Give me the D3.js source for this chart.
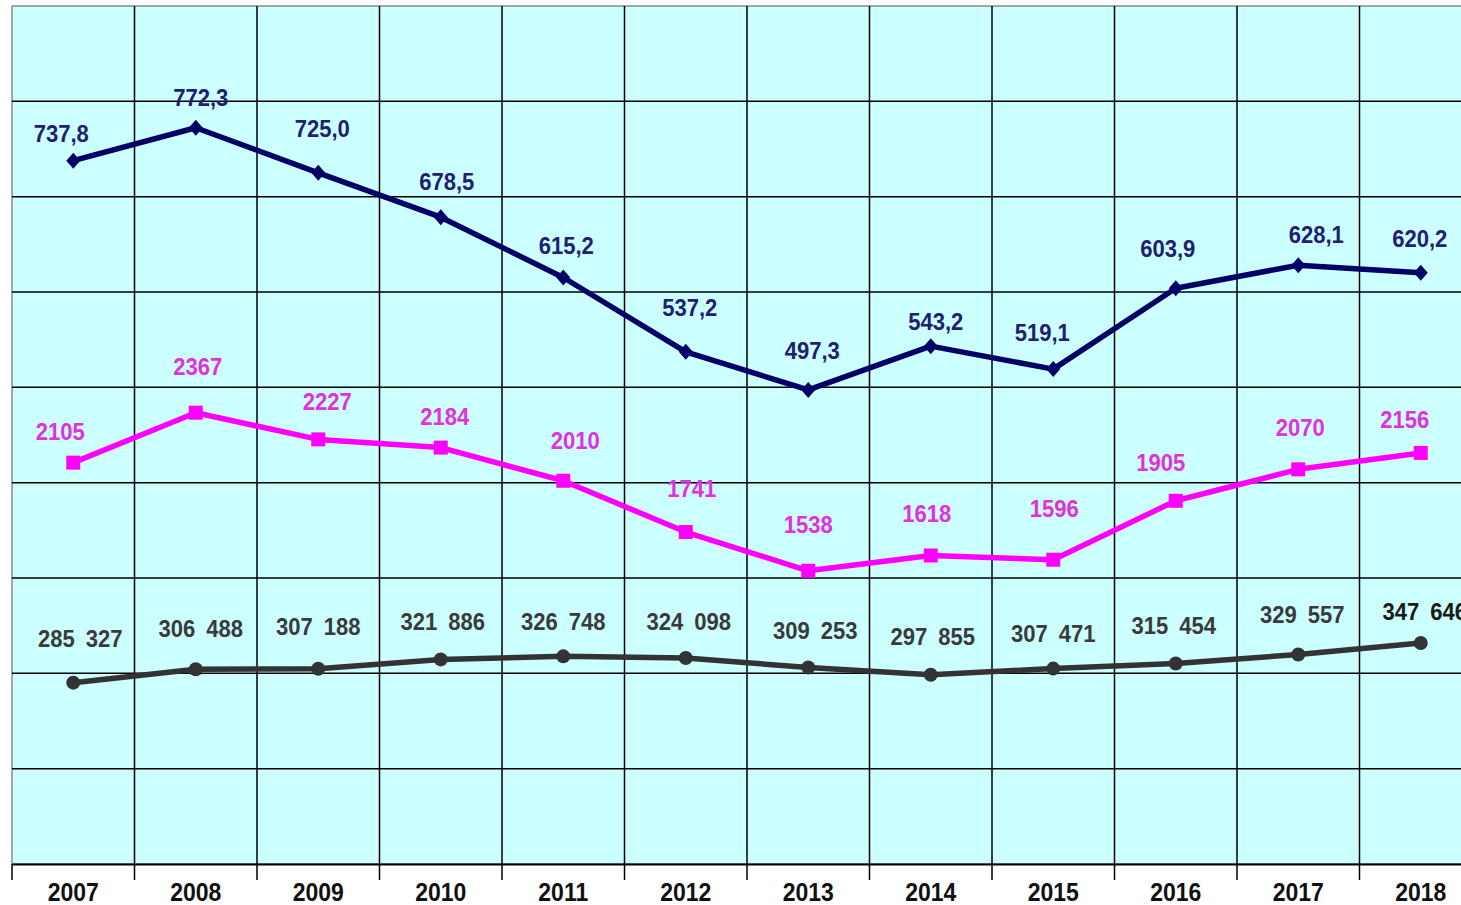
<!DOCTYPE html>
<html><head><meta charset="utf-8">
<script src="https://cdn.jsdelivr.net/npm/d3@7"></script>
<style>
html,body{margin:0;padding:0;background:#fff;}
svg{display:block;}
text{font-family:"Liberation Sans",Arial,sans-serif;}
</style></head>
<body>
<svg id="chart" width="1461" height="905"></svg>
<script>
// ---- data ----
const years = ["2007","2008","2009","2010","2011","2012","2013","2014","2015","2016","2017","2018"];
const blueValues = [737.8, 772.3, 725.0, 678.5, 615.2, 537.2, 497.3, 543.2, 519.1, 603.9, 628.1, 620.2];
const pinkValues = [2105, 2367, 2227, 2184, 2010, 1741, 1538, 1618, 1596, 1905, 2070, 2156];
const blackValues = [285327, 306488, 307188, 321886, 326748, 324098, 309253, 297855, 307471, 315454, 329557, 347646];

// label nudges (style, relative to each point)
const blueDx = [-12,5,4,6,3,4,4,5,-11,-8,18,-1];
const blueDy = [-27,-30,-44,-36,-32,-45,-40,-25,-37,-40,-31,-34];
const pinkDx = [-13,2,9,4,12,6,0,-4,1,-15,2,-16];
const pinkDy = [-31,-46,-38,-31,-40,-44,-46,-42,-51,-38,-42,-34];
const blackDx = [7,5,0,2,0,3,7,2,0,-2,4,4];
const blackDy = [-44,-41,-42,-38,-35,-37,-37,-38,-35,-38,-40,-32];

const svg = d3.select("#chart");
const mLeft = 12, mRight = 1482, mTop = 6, mBottom = 864;
const SX = 0.92;

const x = d3.scaleBand().domain(years).range([mLeft, mRight]).padding(0);
const cx = d => x(d) + x.bandwidth()/2;
const yBlue = d3.scaleLinear().domain([0, 900]).range([mBottom, mTop]);
const yPink = d3.scaleLinear().domain([0, 4500]).range([mBottom, mTop]);
const yBlack = d3.scaleLinear().domain([0, 1350000]).range([mBottom, mTop]);

// plot background
svg.append("rect").attr("x", mLeft).attr("y", mTop).attr("width", mRight-mLeft).attr("height", mBottom-mTop)
  .attr("fill", "#ccffff").attr("stroke", "#8a8a8a").attr("stroke-width", 1.5);

// horizontal grid
const hTicks = yBlue.ticks(9).filter(t => t > 0 && t < 900);
svg.append("g").selectAll("line").data(hTicks).join("line")
  .attr("x1", mLeft).attr("x2", mRight)
  .attr("y1", d => yBlue(d)).attr("y2", d => yBlue(d))
  .attr("stroke", "#000").attr("stroke-width", 1.5);

// vertical grid
svg.append("g").selectAll("line").data(years.slice(1)).join("line")
  .attr("x1", d => x(d)).attr("x2", d => x(d))
  .attr("y1", mTop).attr("y2", mBottom)
  .attr("stroke", "#000").attr("stroke-width", 1.5);

// x axis
const xAxis = d3.axisBottom(x).tickSize(0).tickPadding(0);
const gx = svg.append("g").attr("transform", `translate(0,${mBottom})`).call(xAxis);
gx.select(".domain").attr("stroke", "#000").attr("stroke-width", 2);
gx.selectAll(".tick text").attr("y", 37).attr("dy", 0)
  .attr("transform", "scale(0.92,1)")
  .attr("font-size", 25).attr("font-weight", "bold").attr("fill", "#111")
  .style("font-family", '"Liberation Sans",Arial,sans-serif');
// tick marks at band boundaries
svg.append("g").selectAll("line").data(years).join("line")
  .attr("x1", d => x(d)).attr("x2", d => x(d))
  .attr("y1", mBottom).attr("y2", mBottom + 16)
  .attr("stroke", "#000").attr("stroke-width", 1.5);

// series
function drawSeries(values, yScale, color, width) {
  const line = d3.line().x((d,i) => cx(years[i])).y(d => yScale(d));
  svg.append("path").datum(values).attr("d", line)
    .attr("fill", "none").attr("stroke", color).attr("stroke-width", width)
    .attr("stroke-linejoin", "round");
}
drawSeries(blackValues, yBlack, "#333333", 5.5);
drawSeries(pinkValues, yPink, "#ff00ff", 5.5);
drawSeries(blueValues, yBlue, "#000066", 5.5);

// markers
svg.append("g").selectAll("circle").data(blackValues).join("circle")
  .attr("cx", (d,i) => cx(years[i])).attr("cy", d => yBlack(d)).attr("r", 7).attr("fill", "#333333");
svg.append("g").selectAll("rect").data(pinkValues).join("rect")
  .attr("x", (d,i) => cx(years[i]) - 7).attr("y", d => yPink(d) - 7)
  .attr("width", 14).attr("height", 14).attr("fill", "#ff00ff");
svg.append("g").selectAll("path").data(blueValues).join("path")
  .attr("transform", (d,i) => `translate(${cx(years[i])},${yBlue(d)})`)
  .attr("d", "M0,-8L7,0L0,8L-7,0Z").attr("fill", "#000066");

// labels
const fmtBlue = d => d3.format(".1f")(d).replace(".", ",");
const fmtBlack = d => d3.format(",")(d).replace(/,/g, "\u2002");
function drawLabels(values, yScale, fmt, dx, dy, color) {
  svg.append("g").selectAll("text").data(values).join("text")
    .attr("transform", (d,i) => `translate(${cx(years[i]) + dx[i]},${yScale(d) + dy[i]}) scale(${SX},1)`)
    .attr("dy", "0.36em")
    .attr("text-anchor", "middle")
    .attr("font-size", 24)
    .attr("font-weight", "bold")
    .attr("fill", (d,i) => typeof color === "function" ? color(i) : color)
    .text(fmt);
}
drawLabels(blueValues, yBlue, fmtBlue, blueDx, blueDy, "#202070");
drawLabels(pinkValues, yPink, d => String(d), pinkDx, pinkDy, "#e030e0");
drawLabels(blackValues, yBlack, fmtBlack, blackDx, blackDy, i => i === blackValues.length - 1 ? "#1a1a1a" : "#3a3a3a");
</script>
</body></html>
